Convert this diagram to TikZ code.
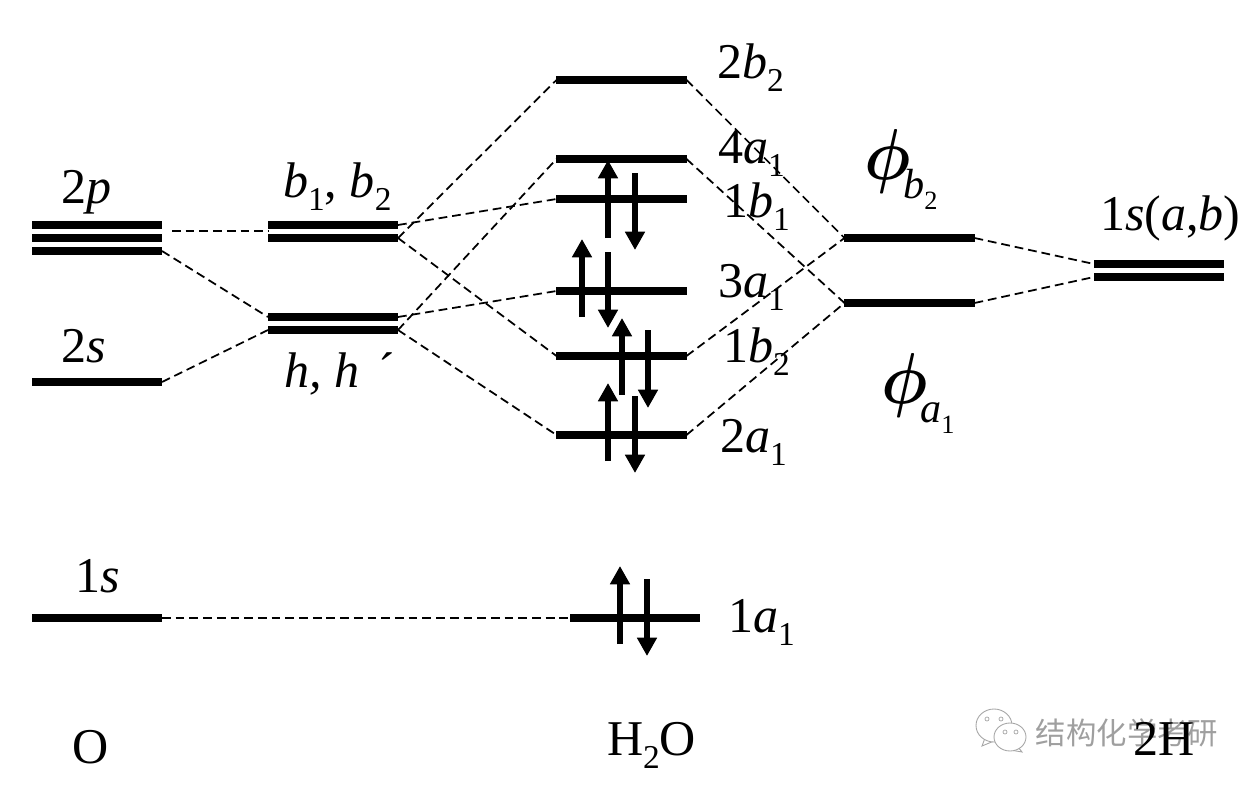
\documentclass[tikz,border=0pt]{standalone}
\usepackage{fontspec}
\setmainfont{Liberation Serif}
\newfontfamily\cjkfont{Noto Sans CJK SC}
\usetikzlibrary{arrows.meta}
\newcommand{\orbsub}[1]{\raisebox{-0.27em}{\fontsize{19}{19}\selectfont #1}}
\newcommand{\bigphi}[2]{\scalebox{3.7}[4.1]{\fontsize{10}{10}\selectfont\boldmath$\phi$}\hspace{-4pt}\raisebox{-11pt}{\fontsize{24}{24}\selectfont\textit{#1}\raisebox{-6.5pt}{\fontsize{15}{15}\selectfont #2}}}
\tikzset{level/.style={rectangle, fill=black, minimum width=74pt, minimum height=4.6pt,
  inner sep=0pt, outer sep=0pt},
  lbl/.style={anchor=base west, inner sep=0pt, outer sep=0pt,
  font=\fontsize{28.5}{28.5}\selectfont}}

\begin{document}
\begin{tikzpicture}[x=0.02cm, y=-0.02cm,
  spin/.style={line width=3.5pt, -{Triangle[width=10.8pt, length=10.4pt]}},
  link/.style={line width=1pt, dash pattern=on 5pt off 2.8pt}]
  \useasboundingbox (0,0) rectangle (1259,788);
  % atomic oxygen
  \node[level] (p1) at (97, 225) {};
  \node[level] (p2) at (97, 238) {};
  \node[level] (p3) at (97, 251) {};
  \node[level] (s2) at (97, 382) {};
  \node[level] (s1) at (97, 618) {};
  % hybrids
  \node[level] (b1) at (333, 225) {};
  \node[level] (b2) at (333, 238) {};
  \node[level] (h1) at (333, 317) {};
  \node[level] (h2) at (333, 330) {};
  % water
  \node[level] (mo2b) at (621.5, 80) {};
  \node[level] (mo4a) at (621.5, 159) {};
  \node[level] (mo1c) at (621.5, 199) {};
  \node[level] (mo3a) at (621.5, 291) {};
  \node[level] (mo1b) at (621.5, 356) {};
  \node[level] (mo2a) at (621.5, 435) {};
  \node[level] (mo1a) at (635, 618) {};
  % ligand group orbitals
  \node[level] (pb) at (909.5, 238) {};
  \node[level] (pa) at (909.5, 303) {};
  \node[level] (ha) at (1159, 264) {};
  \node[level] (hb) at (1159, 277) {};
  % the flat link starts clear of the 2p levels
  \coordinate (pm) at (172, 231);
  \coordinate (bm) at (268, 231);
  % oxygen side
  \draw[link] (pm) -- (bm);
  \draw[link] (p3.east) -- (h1.west);
  \draw[link] (s2.east) -- (h2.west);
  \draw[link] (s1.east) -- (mo1a.west);
  \draw[link] (b2.east) -- (mo2b.west);
  \draw[link] (b1.east) -- (mo1c.west);
  \draw[link] (b2.east) -- (mo1b.west);
  \draw[link] (h2.east) -- (mo4a.west);
  \draw[link] (h1.east) -- (mo3a.west);
  \draw[link] (h2.east) -- (mo2a.west);
  % hydrogen side
  \draw[link] (mo2b.east) -- (pb.west);
  \draw[link] (mo4a.east) -- (pa.west);
  \draw[link] (mo1b.east) -- (pb.west);
  \draw[link] (mo2a.east) -- (pa.west);
  \draw[link] (pb.east) -- (ha.west);
  \draw[link] (pa.east) -- (hb.west);
  % electrons
  \coordinate (e1s) at (608, 238); \coordinate (e1t) at (608, 160);
  \coordinate (e2s) at (635, 173); \coordinate (e2t) at (635, 250);
  \coordinate (e3s) at (582, 317); \coordinate (e3t) at (582, 239);
  \coordinate (e4s) at (608, 252); \coordinate (e4t) at (608, 328);
  \coordinate (e5s) at (622, 395); \coordinate (e5t) at (622, 318);
  \coordinate (e6s) at (648, 330); \coordinate (e6t) at (648, 408);
  \coordinate (e7s) at (608, 461); \coordinate (e7t) at (608, 383);
  \coordinate (e8s) at (635, 396); \coordinate (e8t) at (635, 473);
  \coordinate (e9s) at (620, 644); \coordinate (e9t) at (620, 566);
  \coordinate (e0s) at (647, 579); \coordinate (e0t) at (647, 656);
  \draw[spin] (e1s) -- (e1t);
  \draw[spin] (e2s) -- (e2t);
  \draw[spin] (e3s) -- (e3t);
  \draw[spin] (e4s) -- (e4t);
  \draw[spin] (e5s) -- (e5t);
  \draw[spin] (e6s) -- (e6t);
  \draw[spin] (e7s) -- (e7t);
  \draw[spin] (e8s) -- (e8t);
  \draw[spin] (e9s) -- (e9t);
  \draw[spin] (e0s) -- (e0t);
  % labels
  \node[lbl] (t2p) at (61, 203) {2\textit{p}};
  \node[lbl] (t2s) at (61, 362) {2\textit{s}};
  \node[lbl] (t1s) at (75, 592) {1\textit{s}};
  \node[lbl] (tb) at (283, 197) {\textit{b}\orbsub{1}, \textit{b}\orbsub{2}};
  \node[lbl] (th) at (284, 387) {\textit{h, h}\hspace{11pt}´};
  \node[lbl] (l2b) at (717, 78) {2\textit{b}\orbsub{2}};
  \node[lbl] (l4a) at (718, 163) {4\textit{a}\orbsub{1}};
  \node[lbl] (l1c) at (723, 217) {1\textit{b}\orbsub{1}};
  \node[lbl] (l3a) at (718, 297) {3\textit{a}\orbsub{1}};
  \node[lbl] (l1b) at (723, 362) {1\textit{b}\orbsub{2}};
  \node[lbl] (l2a) at (720, 452) {2\textit{a}\orbsub{1}};
  \node[lbl] (l1a) at (728, 632) {1\textit{a}\orbsub{1}};
  \node[lbl] (lpb) at (864, 179) {\bigphi{b}{2}};
  \node[lbl] (lpa) at (881, 403) {\bigphi{a}{1}};
  \node[lbl] (lh) at (1100, 230) {1\textit{s}(\textit{a},\textit{b})};
  \node[lbl] (to) at (72, 763) {O};
  \node[lbl] (tw) at (607, 755) {H\orbsub{2}O};
  % watermark
  \draw[gray!70, line width=0.5pt, fill=white] (985, 738) -- (982, 746) -- (994, 741);
  \draw[gray!70, line width=0.5pt, fill=white] (994, 725.5) ellipse [x radius=18, y radius=16.5];
  \draw[gray!70, line width=0.5pt, fill=white] (1018, 747) -- (1022, 752) -- (1010, 750);
  \draw[gray!70, line width=0.5pt, fill=white] (1010, 737) ellipse [x radius=16, y radius=14];
  \draw[gray!70, line width=0.4pt] (987, 719) circle [radius=2];
  \draw[gray!70, line width=0.4pt] (1001, 719) circle [radius=2];
  \draw[gray!70, line width=0.4pt] (1005, 732) circle [radius=2];
  \draw[gray!70, line width=0.4pt] (1016, 732) circle [radius=2];
  \node[inner sep=0pt, text=gray!75, font=\cjkfont\fontsize{17.3}{17.3}\selectfont] (mark) at (1127, 733) {结构化学考研};
  \node[lbl] (t2h) at (1133, 755) {2H};
\end{tikzpicture}
\end{document}
